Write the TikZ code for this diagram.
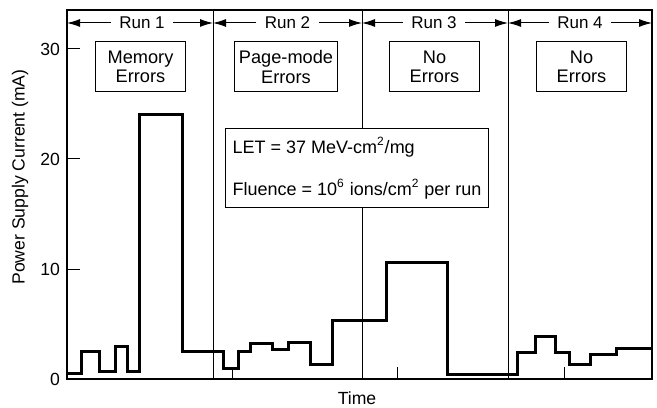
\documentclass[tikz,border=0pt]{standalone}
\usepackage{fontspec}
\setmainfont{Liberation Sans}
\usetikzlibrary{arrows.meta}

\tikzset{
  errbox/.style={draw, line width=0.5pt, minimum width=45pt, minimum height=25pt,
    inner xsep=2pt, align=center, font=\fontsize{9.1}{9.8}\selectfont},
  runlabel/.style={inner xsep=4pt, font=\fontsize{8.5}{10}\selectfont},
  runarrow/.style={line width=0.5pt, -{Latex[length=6.5pt,width=4pt]}},
  trace/.style={line width=1.5pt, line join=miter},
}

\begin{document}
\begin{tikzpicture}[x=0.5pt, y=0.5pt, font=\fontsize{8.8}{10}\selectfont]
\useasboundingbox (0,0) rectangle (657,407);

% Frame and run dividers
\draw[line width=1pt] (67,28) rectangle (652,397);
\foreach \x in {213,362,508} {
    \draw[line width=0.5pt] (\x,28) -- (\x,397);
}

% Run arrows
\coordinate (d0) at (67,384);
\coordinate (d1) at (213,384);
\coordinate (d2) at (362,384);
\coordinate (d3) at (508,384);
\coordinate (d4) at (652,384);
\node[runlabel] (run1) at (142,384) {Run 1};
\node[runlabel] (run2) at (287.5,384) {Run 2};
\node[runlabel] (run3) at (434,384) {Run 3};
\node[runlabel] (run4) at (580,384) {Run 4};
\draw[runarrow] (run1) -- (d0);
\draw[runarrow] (run1) -- (d1);
\draw[runarrow] (run2) -- (d1);
\draw[runarrow] (run2) -- (d2);
\draw[runarrow] (run3) -- (d2);
\draw[runarrow] (run3) -- (d3);
\draw[runarrow] (run4) -- (d3);
\draw[runarrow] (run4) -- (d4);

% Error boxes
\node[errbox] (mem) at (140.5,340) {Memory\\Errors};
\node[errbox] (page) at (286,340) {Page-mode\\Errors};
\node[errbox] (none3) at (434.5,340) {No\\Errors};
\node[errbox] (none4) at (581.5,340) {No\\Errors};

% Beam conditions
\node[draw, fill=white, line width=0.5pt, minimum width=128pt, minimum height=39.5pt,
    align=left, font=\fontsize{9}{10.5}\selectfont] (beam) at (357,239)
    {LET = 37 MeV-cm\textsuperscript{2}/mg\\[10.5pt]
     Fluence = 10\textsuperscript{6} ions/cm\textsuperscript{2} per run};

% Time ticks
\foreach \x in {232,397,564} {
    \draw[line width=0.5pt] (\x,28) -- (\x,40);
}

% Current axis and trace
\begin{scope}[yshift=14pt, y=5.5pt]
    \foreach \v in {10,20,30} {
        \draw[line width=0.5pt] (67,\v) -- (80,\v);
    }
    \foreach \v in {0,10,20,30} {
        \node[left] (tick\v) at (67,\v) {\v};
    }
    \draw[trace] (67,0.5) -| (81.7,2.5) -| (99.3,0.7) -| (115,3) -| (127,0.7)
        -| (139.7,24) -| (182.7,2.5) -| (223.3,1) -| (238,2.5) -| (250,3.2)
        -| (272.7,2.7) -| (288.7,3.3) -| (310.7,1.3) -| (332.3,5.3)
        -| (386.7,10.6) -| (447.3,0.45) -| (517.3,2.4) -| (535,3.85)
        -| (555,2.4) -| (569.3,1.3) -| (590.7,2.2) -| (616.7,2.75) -- (652,2.75);
\end{scope}

% Axis titles
\node[rotate=90] (ylab) at (20,230) {Power Supply Current (mA)};
\node (xlab) at (357,9) {Time};

\end{tikzpicture}
\end{document}
